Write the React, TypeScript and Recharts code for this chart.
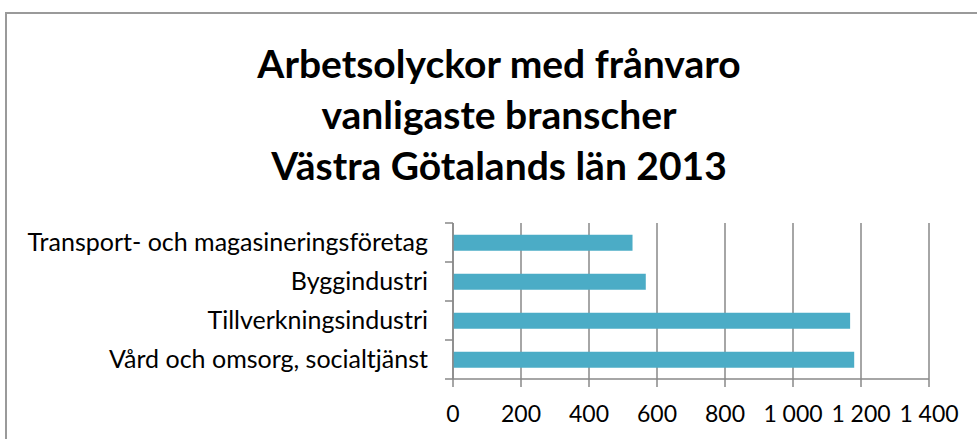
import { BarChart, Bar, XAxis, YAxis, CartesianGrid } from 'recharts';

const TITLE_LINES = ['Arbetsolyckor med frånvaro', 'vanligaste branscher', 'Västra Götalands län 2013'];
const CATEGORIES = ['Transport- och magasineringsföretag', 'Byggindustri', 'Tillverkningsindustri', 'Vård och omsorg, socialtjänst'];
const VALUES = [528, 567, 1168, 1180];
const X_TICKS = [0, 200, 400, 600, 800, 1000, 1200, 1400];

const FONT = 'Lato, "Open Sans", sans-serif';
const GRAY = '#898989';
const Y_TICK_SIZE = 8;
const Y_TICK_MARGIN = 17;

const data = CATEGORIES.map((name, i) => ({ name, value: VALUES[i] }));

// 1 000 style thousands separator
const fmt = (v: number) => String(v).replace(/\B(?=(\d{3})+(?!\d))/g, ' ');

// label + Excel style tick marks on the category boundaries (band edges from the axis payload)
function CategoryTick(props: any) {
  const { x, y, payload, index } = props;
  const half = payload?.offset ?? 0;
  const edge = x + Y_TICK_SIZE + Y_TICK_MARGIN;
  const marks = half > 0 ? [payload.coordinate - half] : [];
  if (half > 0 && index === CATEGORIES.length - 1) marks.push(payload.coordinate + half);
  return (
    <g>
      {marks.map((my, i) => (
        <line key={i} x1={edge - Y_TICK_SIZE} x2={edge} y1={my} y2={my} stroke={GRAY} strokeWidth={1.5} />
      ))}
      <text x={x} y={y} dy="0.355em" textAnchor="end" fill="#000" fontSize={25} fontFamily={FONT}>
        {payload.value}
      </text>
    </g>
  );
}

export default function App() {
  return (
    <div style={{ position: 'absolute', left: 0, top: 0, width: 977, height: 439, background: '#fff', overflow: 'hidden' }}>
      {/* chart frame */}
      <div style={{ position: 'absolute', left: 5, top: 12, width: 1100, height: 600, border: `2px solid #9a9a9a`, boxSizing: 'border-box' }} />
      <div
        style={{
          position: 'absolute', left: 0, top: 38, width: 998, textAlign: 'center',
          fontFamily: FONT, fontWeight: 700, fontSize: 39, lineHeight: '51px', color: '#000',
        }}
      >
        {TITLE_LINES.map((t) => <div key={t}>{t}</div>)}
      </div>
      <BarChart
        width={977}
        height={439}
        data={data}
        layout="vertical"
        margin={{ top: 223, right: 48, bottom: 0, left: 0 }}
        barCategoryGap="30%"
        style={{ position: 'absolute', left: 0, top: 0 }}
      >
        <CartesianGrid horizontal={false} stroke={GRAY} strokeWidth={1.5} />
        <XAxis
          type="number"
          domain={[0, 1400]}
          ticks={X_TICKS}
          tickFormatter={fmt}
          axisLine={{ stroke: GRAY, strokeWidth: 1.5 }}
          tickLine={{ stroke: GRAY, strokeWidth: 1.5 }}
          tickSize={8}
          tickMargin={19}
          tick={{ fill: '#000', fontSize: 23, fontFamily: FONT }}
          height={60}
          interval={0}
        />
        <YAxis
          type="category"
          dataKey="name"
          width={453}
          axisLine={{ stroke: GRAY, strokeWidth: 1.5 }}
          tickLine={false}
          tickSize={Y_TICK_SIZE}
          tickMargin={Y_TICK_MARGIN}
          interval={0}
          tick={<CategoryTick />}
        />
        <Bar dataKey="value" fill="#4BACC6" isAnimationActive={false} />
      </BarChart>
    </div>
  );
}
